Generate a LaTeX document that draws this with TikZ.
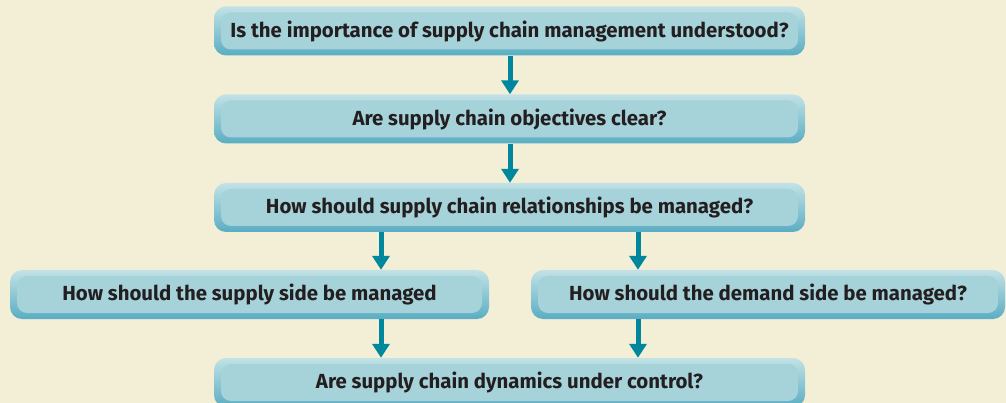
\documentclass[tikz,border=0pt]{standalone}
\usepackage{fontspec}
\setmainfont{Fira Sans}
\usetikzlibrary{arrows.meta}
\definecolor{bgc}{HTML}{F3EFD7}
\definecolor{boxtop}{HTML}{C2E2E6}
\definecolor{boxbot}{HTML}{5AADC3}
\definecolor{boxin}{HTML}{A6D2DA}
\definecolor{arrowc}{HTML}{00879E}
\definecolor{txt}{HTML}{231F20}
\tikzset{
  qbox/.style={minimum height=49pt, rounded corners=12pt, inner sep=0pt,
    top color=boxtop, bottom color=boxbot, text=txt,
    font=\fontsize{20.4}{24}\selectfont\bfseries,
    path picture={\fill[boxin, rounded corners=10pt]
      ([shift={(7pt,-6pt)}]path picture bounding box.north west) rectangle
      ([shift={(-7pt,6pt)}]path picture bounding box.south east);}},
  flow/.style={draw=arrowc, line width=5pt, -{Triangle[width=17pt,length=14pt]}, shorten >=0pt}
}
\begin{document}
\begin{tikzpicture}[x=1pt,y=-1pt]
\fill[bgc] (0,0) rectangle (1006,403);
\useasboundingbox (0,0) rectangle (1006,403);
\begin{scope}
\clip (0,0) rectangle (1006,403);
\node[qbox, minimum width=591pt] (b1) at (509.5,31) {Is the importance of supply chain management understood?};
\node[qbox, minimum width=591pt] (b2) at (509.5,119) {Are supply chain objectives clear?};
\node[qbox, minimum width=591pt] (b3) at (509.5,207.5) {How should supply chain relationships be managed?};
\node[qbox, minimum width=479pt] (b4) at (249.5,294.5) {How should the supply side be managed};
\node[qbox, minimum width=474pt] (b5) at (768,294.5) {How should the demand side be managed?};
\node[qbox, minimum width=591pt] (b6) at (509.5,382.5) {Are supply chain dynamics under control?};
\coordinate (xa) at (510,0);
\coordinate (xl) at (381,0);
\coordinate (xr) at (638,0);
\draw[flow] (b1.south -| xa) -- (b2.north -| xa);
\draw[flow] (b2.south -| xa) -- (b3.north -| xa);
\draw[flow] (b3.south -| xl) -- (b4.north -| xl);
\draw[flow] (b3.south -| xr) -- (b5.north -| xr);
\draw[flow] (b4.south -| xl) -- (b6.north -| xl);
\draw[flow] (b5.south -| xr) -- (b6.north -| xr);
\end{scope}
\end{tikzpicture}
\end{document}
